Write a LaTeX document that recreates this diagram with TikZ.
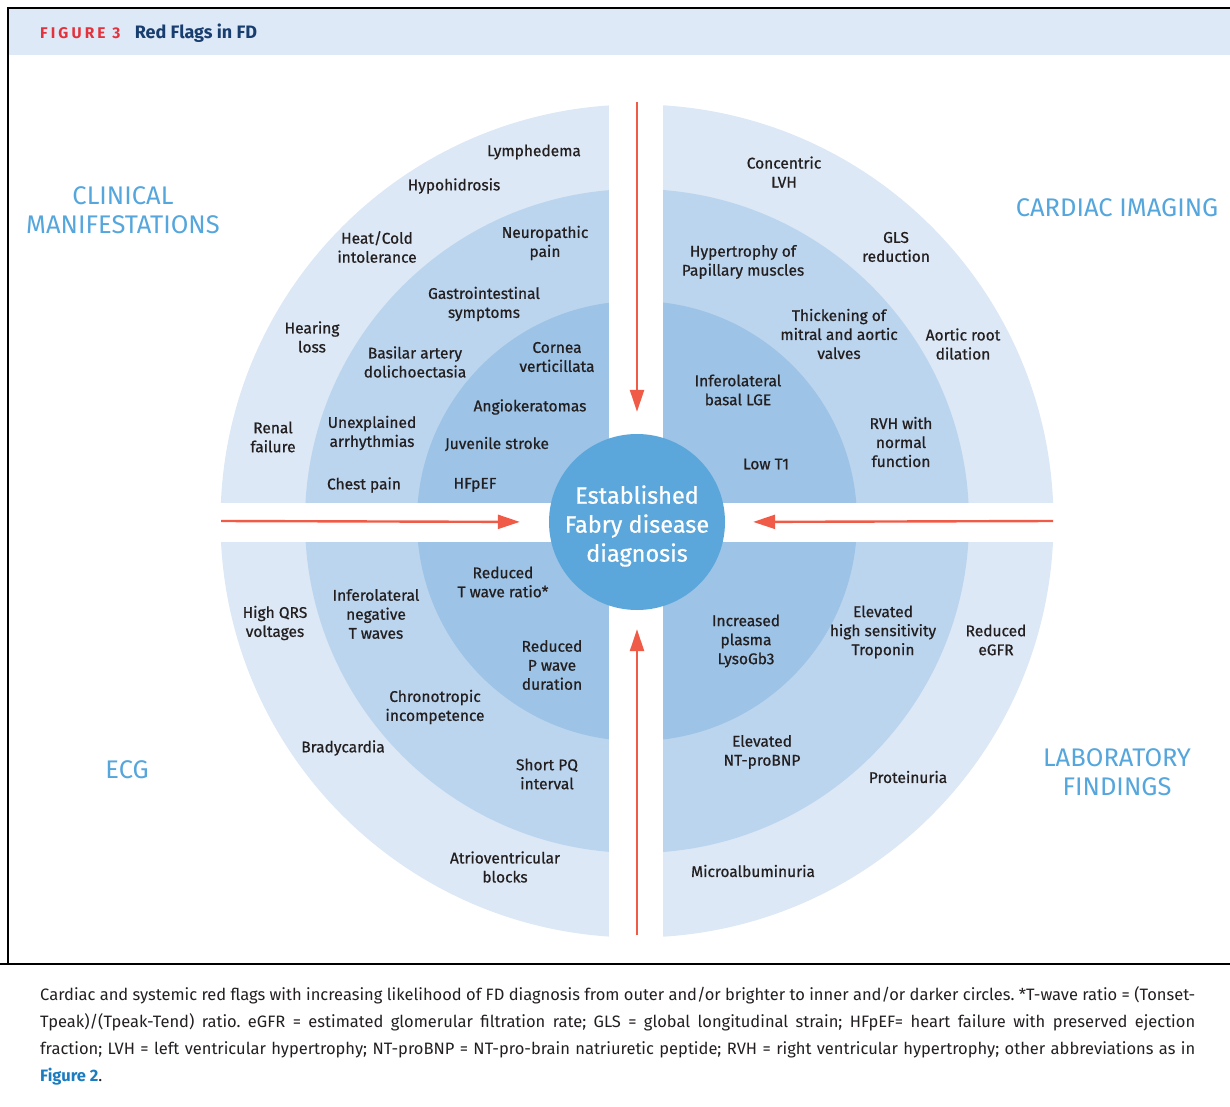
\documentclass[tikz,border=0pt]{standalone}
\usepackage{fontspec}
\setmainfont{Fira Sans}
\newfontfamily\flagfont{Fira Sans}[FakeBold=0.7]
\usepackage{xcolor}
\usetikzlibrary{positioning}
\usetikzlibrary{arrows.meta}

\definecolor{ringout}{HTML}{DCE8F5}
\definecolor{ringmid}{HTML}{BCD5EE}
\definecolor{ringin}{HTML}{9DC3E6}
\definecolor{core}{HTML}{5BA6DA}
\definecolor{grouptext}{HTML}{55A6DC}
\definecolor{flagtext}{HTML}{231F20}
\definecolor{arrowred}{HTML}{EF5B46}
\definecolor{headband}{HTML}{DDE9F6}
\definecolor{figred}{HTML}{E4323C}
\definecolor{navy}{HTML}{183D6F}
\definecolor{linkblue}{HTML}{1B7CC0}

\begin{document}
\begin{tikzpicture}[x=1pt, y=-1pt,
  flag/.style={align=center, text=flagtext, inner sep=0pt, font=\flagfont\fontsize{15.5}{19}\selectfont},
  group/.style={align=center, text=grouptext, inner sep=0pt, font=\fontsize{25.5}{29}\selectfont},
  push/.style={draw=arrowred, line width=2.4pt, -{Triangle[length=22pt, width=14pt]}}]

\useasboundingbox (0,0) rectangle (1230,1107);

% frame and header

\fill [headband] (9,9) rectangle (1230,55);
\draw [line width=2pt] (8,964) -- (8,8) -- (1230,8);
\draw [line width=2pt] (0,964) -- (1230,964);
\node [anchor=base west, inner sep=0pt, text=figred, font=\fontsize{15.5}{17}\bfseries\addfontfeature{LetterSpace=20}] (fig) at (40,39) {FIGURE 3};
\node [inner sep=0pt, text=navy, font=\fontsize{18}{20}\bfseries, right=14pt of fig.base east, anchor=base west] (title) {Red Flags in FD};

% rings, cut into quadrants

\fill [ringout] (637,521) circle (416.5pt);
\fill [ringmid] (637,521) circle (332pt);
\fill [ringin] (637,521) circle (220pt);
\fill [white] (609,90) rectangle (663,950);
\fill [white] (205,502.5) rectangle (1070,542);

\node [circle, fill=core, minimum size=176pt, inner sep=0pt] (dx) at (637,522) {};
\node [align=center, text=white, inner sep=0pt, font=\flagfont\fontsize{23.5}{29}\selectfont] (dxtext) at (637,526) {Established\\Fabry disease\\diagnosis};

% arrows towards the diagnosis

\coordinate (ntop) at (637,102);
\coordinate (nbot) at (637,935);
\coordinate (nleft) at (221,521);
\coordinate (nright) at (1053,521);
\path [push, shorten >=22pt] (ntop) -- (dx.north);
\path [push, shorten >=19pt] (nbot) -- (dx.south);
\path [push, shorten >=29pt] (nleft) -- (dx.west);
\path [push, shorten >=28pt] (nright) -- (dx.east);

% groups

\node [group] (clin) at (123,210) {CLINICAL\\MANIFESTATIONS};
\node [group] (img) at (1117,208) {CARDIAC IMAGING};
\node [group] (ecg) at (127,770) {ECG};
\node [group] (lab) at (1117,772) {LABORATORY\\FINDINGS};

% clinical manifestations

\node [flag] (lymph) at (534,152) {Lymphedema};
\node [flag] (hypo) at (454,186) {Hypohidrosis};
\node [flag] (heat) at (377,247) {Heat/Cold\\intolerance};
\node [flag] (neuro) at (545,243) {Neuropathic\\pain};
\node [flag] (gastro) at (484,304) {Gastrointestinal\\symptoms};
\node [flag] (hear) at (312,337) {Hearing\\loss};
\node [flag] (basil) at (415,362) {Basilar artery\\dolichoectasia};
\node [flag] (cornea) at (557,357) {Cornea\\verticillata};
\node [flag] (angio) at (530,407) {Angiokeratomas};
\node [flag] (renal) at (273,437) {Renal\\failure};
\node [flag] (arrh) at (372,433) {Unexplained\\arrhythmias};
\node [flag] (stroke) at (497,444) {Juvenile stroke};
\node [flag] (chest) at (364,485) {Chest pain};
\node [flag] (hfpef) at (475,485) {HFpEF};

% cardiac imaging

\node [flag] (lvh) at (784,172) {Concentric\\LVH};
\node [flag] (gls) at (896,247) {GLS\\reduction};
\node [flag] (papil) at (743,262) {Hypertrophy of\\Papillary muscles};
\node [flag] (valves) at (839,334) {Thickening of\\mitral and aortic\\valves};
\node [flag] (aortic) at (963,344) {Aortic root\\dilation};
\node [flag] (lge) at (738,390) {Inferolateral\\basal LGE};
\node [flag] (rvh) at (901,442) {RVH with\\normal\\function};
\node [flag] (tone) at (766,464) {Low T1};

% ecg

\node [flag] (tratio) at (503,582) {Reduced\\T wave ratio*};
\node [flag] (qrs) at (275,623) {High QRS\\voltages};
\node [flag] (twave) at (376,614) {Inferolateral\\negative\\T waves};
\node [flag] (pwave) at (552,665) {Reduced\\P wave\\duration};
\node [flag] (chrono) at (435,707) {Chronotropic\\incompetence};
\node [flag] (brady) at (343,748) {Bradycardia};
\node [flag] (pq) at (547,774) {Short PQ\\interval};
\node [flag] (avb) at (505,867) {Atrioventricular\\blocks};

% laboratory findings

\node [flag] (lyso) at (746,641) {Increased\\plasma\\LysoGb3};
\node [flag] (tropo) at (883,632) {Elevated\\high sensitivity\\Troponin};
\node [flag] (egfr) at (996,640) {Reduced\\eGFR};
\node [flag] (bnp) at (762,752) {Elevated\\NT-proBNP};
\node [flag] (prot) at (908,777) {Proteinuria};
\node [flag] (micro) at (753,871) {Microalbuminuria};

% caption

\node [anchor=north west, inner sep=0pt, text width=1155pt, align=justify, text=flagtext, font=\fontsize{16.5}{27}\selectfont\frenchspacing] (caption) at (40,986) {Cardiac and systemic red flags with increasing likelihood of FD diagnosis from outer and/or brighter to inner and/or darker circles. *T-wave ratio = (Tonset-\linebreak Tpeak)/(Tpeak-Tend) ratio. eGFR = estimated glomerular filtration rate; GLS = global longitudinal strain; HFpEF= heart failure with preserved ejection\linebreak fraction; LVH = left ventricular hypertrophy; NT-proBNP = NT-pro-brain natriuretic peptide; RVH = right ventricular hypertrophy; other abbreviations as in\linebreak {\bfseries\color{linkblue}Figure 2}.};

\end{tikzpicture}
\end{document}
